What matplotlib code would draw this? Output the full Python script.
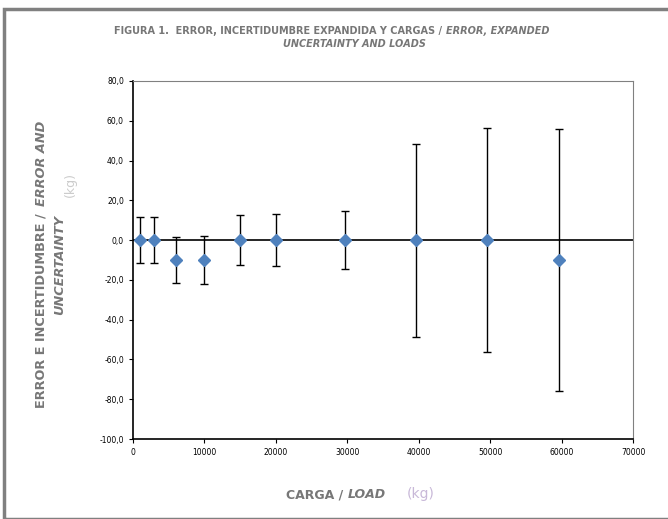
import numpy as np
from matplotlib import pyplot as plt
from matplotlib.patches import Rectangle

carga = [1000, 3000, 6000, 10000, 15000, 20000, 29600, 39600, 49600, 59600]
error = [0, 0, -10, -10, 0, 0, 0, 0, 0, -10]
incert = [11.7, 11.7, 11.8, 12.0, 12.5, 13.0, 14.5, 48.5, 56.3, 66.0]
yticks = np.arange(-100, 81, 20)

gray = '#808080'
tc = '#777777'
fig = plt.figure(figsize=(6.68, 5.19), dpi=100)
fig.patches.append(Rectangle((0.006, 0.0), 1.0, 0.982, transform=fig.transFigure,
                             fill=False, edgecolor=gray, linewidth=2.5))
ax = fig.add_axes([0.199, 0.154, 0.749, 0.69])
ax.errorbar(carga, error, yerr=incert, fmt='D', color='#4f81bd', markersize=6.5,
            ecolor='black', elinewidth=1, capsize=3, capthick=1, zorder=3)
ax.axhline(0, color='black', linewidth=1.2)
ax.set_xlim(0, 70000)
ax.set_ylim(-100, 80)
ax.set_yticks(yticks)
ax.set_yticklabels([f'{v:.1f}'.replace('.', ',') for v in yticks])
ax.set_xticks(np.arange(0, 70001, 10000))
ax.tick_params(labelsize=5.5, length=3)
for s in ['top', 'right']:
    ax.spines[s].set_color(gray)
ax.spines['left'].set_linewidth(1.2)
ax.spines['bottom'].set_linewidth(1.2)

fig.text(0.667, 0.935, 'FIGURA 1.  ERROR, INCERTIDUMBRE EXPANDIDA Y CARGAS / ', ha='right',
         fontsize=7, color=tc, fontweight='bold')
fig.text(0.667, 0.935, 'ERROR, EXPANDED', ha='left', fontsize=7, color=tc,
         fontweight='bold', style='italic')
fig.text(0.53, 0.91, 'UNCERTAINTY AND LOADS', ha='center', fontsize=7, color=tc,
         fontweight='bold', style='italic')
fig.text(0.062, 0.604, 'ERROR AND', rotation=90, ha='center', va='bottom',
         fontsize=9.3, color=tc, fontweight='bold', style='italic')
fig.text(0.062, 0.214, 'ERROR E INCERTIDUMBRE / ', rotation=90, ha='center', va='bottom',
         fontsize=9.3, color=tc, fontweight='bold')
fig.text(0.09, 0.49, 'UNCERTAINTY', rotation=90, ha='center', va='center',
         fontsize=9.3, color=tc, fontweight='bold', style='italic')
fig.text(0.105, 0.645, '(kg)', rotation=90, ha='center', va='center', fontsize=9, color='#cccccc')
fig.text(0.52, 0.04, 'CARGA / ', ha='right', fontsize=9, color=tc, fontweight='bold')
fig.text(0.52, 0.04, 'LOAD', ha='left', fontsize=9, color=tc, fontweight='bold', style='italic')
fig.text(0.63, 0.04, '(kg)', ha='center', fontsize=10, color='#c8b8d8')
fig.savefig('out.png', dpi=100)
